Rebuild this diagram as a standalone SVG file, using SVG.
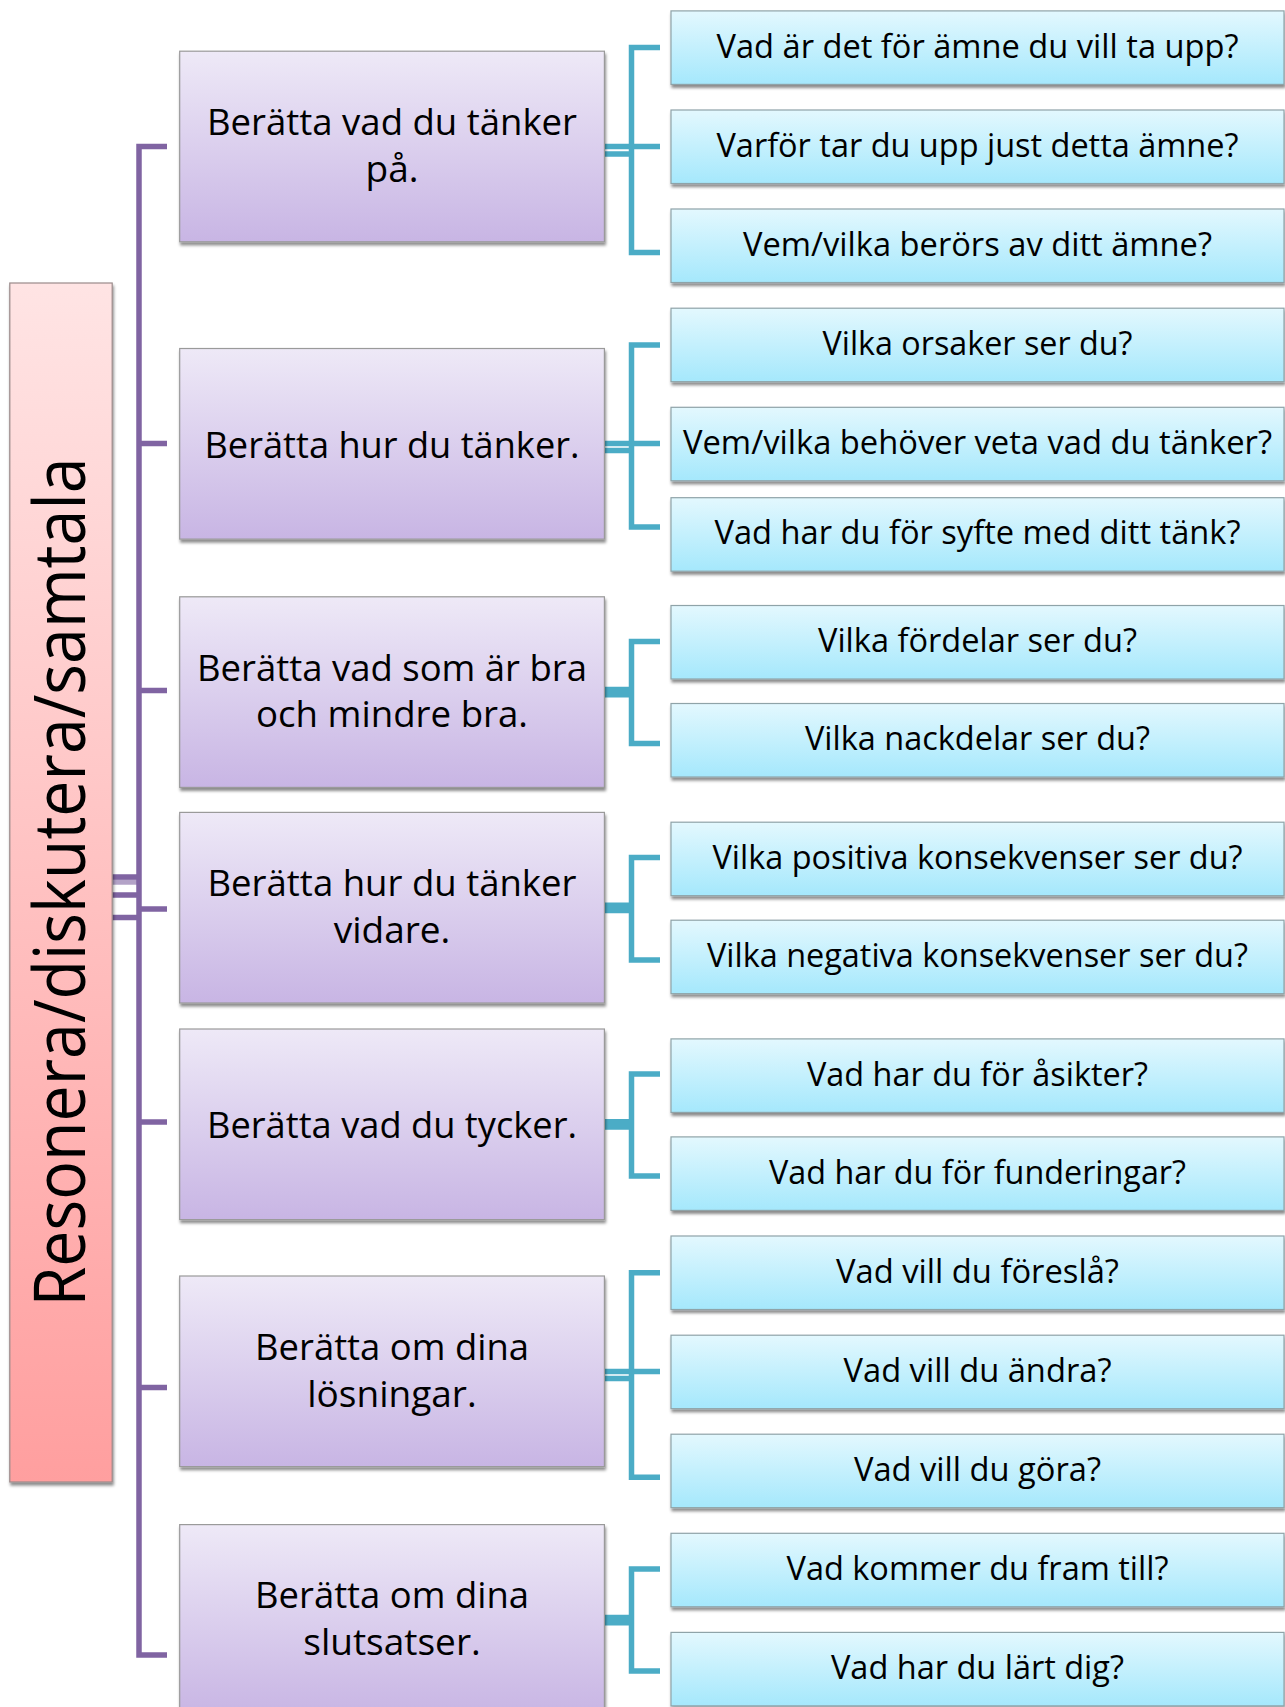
<svg xmlns="http://www.w3.org/2000/svg" width="1285" height="1707" viewBox="0 0 1285 1707">
<defs>
<linearGradient id="gp" x1="0" y1="0" x2="0" y2="1"><stop offset="0" stop-color="#EEE9F7"/><stop offset="1" stop-color="#C8B5E4"/></linearGradient>
<linearGradient id="gb" x1="0" y1="0" x2="0" y2="1"><stop offset="0" stop-color="#E3F8FE"/><stop offset="1" stop-color="#A5E8FC"/></linearGradient>
<linearGradient id="gr" x1="0" y1="0" x2="0" y2="1"><stop offset="0" stop-color="#FFE4E4"/><stop offset="1" stop-color="#FF9F9F"/></linearGradient>
<filter id="sh" x="-5%" y="-5%" width="110%" height="115%"><feDropShadow dx="1" dy="3" stdDeviation="1.5" flood-color="#000" flood-opacity="0.45"/></filter>
</defs>
<style>
.pb{fill:url(#gp);stroke:#9A9A9A;stroke-width:1.2;filter:url(#sh)}
.bb{fill:url(#gb);stroke:#8FA3A8;stroke-width:1.2;filter:url(#sh)}
.rb{fill:url(#gr);stroke:#9A8A8A;stroke-width:1.2;filter:url(#sh)}
text{font-family:"Open Sans","Noto Sans","DejaVu Sans",sans-serif;fill:#000;text-anchor:middle}
.bt{font-size:33px}
.pt{font-size:37px}
.rt{font-size:72px}
.cp{fill:none;stroke:#8064A2;stroke-width:5.5}
.cb{fill:none;stroke:#4BACC6;stroke-width:5.5}
</style>
<rect width="1285" height="1707" fill="#FFFFFF"/>
<g id="connectors">
<path class="cp" d="M112,877 H139 M112,895 H139 M112,917.5 H139"/>
<path class="cp" d="M112,882 H139" stroke-opacity="0.6"/>
<path class="cp" d="M167,146.5 H139 V1655 H167 M139,443.5 H167 M139,690.5 H167 M139,909 H167 M139,1122 H167 M139,1387.5 H167"/>
<path class="cb" d="M604,146.5 H660 M604,154 H631.5 M660,47.6 H631.5 V252.5 H660"/>
<path class="cb" d="M604,443.5 H660 M604,450.5 H631.5 M660,345 H631.5 V527 H660"/>
<path class="cb" d="M604,689.5 H631.5 M604,694.7 H631.5 M660,641.5 H631.5 V743.5 H660"/>
<path class="cb" d="M604,905.2 H631.5 M604,910.4 H631.5 M660,857.5 H631.5 V960 H660"/>
<path class="cb" d="M604,1121.8 H631.5 M604,1127 H631.5 M660,1074 H631.5 V1176 H660"/>
<path class="cb" d="M604,1371.5 H660 M604,1378.5 H631.5 M660,1272.7 H631.5 V1477.3 H660"/>
<path class="cb" d="M604,1617.5 H631.5 M604,1622.7 H631.5 M660,1569 H631.5 V1671 H660"/>
</g>
<g id="root"><rect class="rb" x="9.8" y="283" width="102.4" height="1199"/><text class="rt" transform="translate(85,882) rotate(-90)" textLength="849" lengthAdjust="spacingAndGlyphs">Resonera/diskutera/samtala</text></g>
<g id="p1"><rect class="pb" x="179.7" y="51.2" width="424.7" height="190.6"/><text class="pt" x="392" y="135" textLength="370" lengthAdjust="spacingAndGlyphs">Berätta vad du tänker</text><text class="pt" x="392" y="181.7">på.</text></g>
<g id="p2"><rect class="pb" x="179.7" y="348.5" width="424.7" height="190.6"/><text class="pt" x="392" y="457.5" textLength="375" lengthAdjust="spacingAndGlyphs">Berätta hur du tänker.</text></g>
<g id="p3"><rect class="pb" x="179.7" y="596.8" width="424.7" height="190.6"/><text class="pt" x="392" y="680.6" textLength="390" lengthAdjust="spacingAndGlyphs">Berätta vad som är bra</text><text class="pt" x="392" y="727.3" textLength="272" lengthAdjust="spacingAndGlyphs">och mindre bra.</text></g>
<g id="p4"><rect class="pb" x="179.7" y="812.4" width="424.7" height="190.6"/><text class="pt" x="392" y="896.2" textLength="369" lengthAdjust="spacingAndGlyphs">Berätta hur du tänker</text><text class="pt" x="392" y="942.9">vidare.</text></g>
<g id="p5"><rect class="pb" x="179.7" y="1029" width="424.7" height="190.6"/><text class="pt" x="392" y="1138" textLength="370" lengthAdjust="spacingAndGlyphs">Berätta vad du tycker.</text></g>
<g id="p6"><rect class="pb" x="179.7" y="1276" width="424.7" height="190.6"/><text class="pt" x="392" y="1359.8" textLength="274" lengthAdjust="spacingAndGlyphs">Berätta om dina</text><text class="pt" x="392" y="1406.5">lösningar.</text></g>
<g id="p7"><rect class="pb" x="179.7" y="1524.6" width="424.7" height="190.6"/><text class="pt" x="392" y="1608.4" textLength="274" lengthAdjust="spacingAndGlyphs">Berätta om dina</text><text class="pt" x="392" y="1655.1">slutsatser.</text></g>
<g id="b1"><rect class="bb" x="671" y="10.9" width="613" height="73.5"/><text class="bt" x="977.5" y="57.5" textLength="522" lengthAdjust="spacingAndGlyphs">Vad är det för ämne du vill ta upp?</text></g>
<g id="b2"><rect class="bb" x="671" y="110" width="613" height="73.5"/><text class="bt" x="977.5" y="156.6" textLength="522" lengthAdjust="spacingAndGlyphs">Varför tar du upp just detta ämne?</text></g>
<g id="b3"><rect class="bb" x="671" y="209" width="613" height="73.5"/><text class="bt" x="977.5" y="255.6" textLength="469" lengthAdjust="spacingAndGlyphs">Vem/vilka berörs av ditt ämne?</text></g>
<g id="b4"><rect class="bb" x="671" y="308.2" width="613" height="73.5"/><text class="bt" x="977.5" y="354.8" textLength="310" lengthAdjust="spacingAndGlyphs">Vilka orsaker ser du?</text></g>
<g id="b5"><rect class="bb" x="671" y="407.3" width="613" height="73.5"/><text class="bt" x="977.5" y="453.9" textLength="589" lengthAdjust="spacingAndGlyphs">Vem/vilka behöver veta vad du tänker?</text></g>
<g id="b6"><rect class="bb" x="671" y="497.7" width="613" height="73.5"/><text class="bt" x="977.5" y="544.3" textLength="526" lengthAdjust="spacingAndGlyphs">Vad har du för syfte med ditt tänk?</text></g>
<g id="b7"><rect class="bb" x="671" y="605.5" width="613" height="73.5"/><text class="bt" x="977.5" y="652.1" textLength="319" lengthAdjust="spacingAndGlyphs">Vilka fördelar ser du?</text></g>
<g id="b8"><rect class="bb" x="671" y="703.5" width="613" height="73.5"/><text class="bt" x="977.5" y="750.1" textLength="345" lengthAdjust="spacingAndGlyphs">Vilka nackdelar ser du?</text></g>
<g id="b9"><rect class="bb" x="671" y="822.2" width="613" height="73.5"/><text class="bt" x="977.5" y="868.8" textLength="530" lengthAdjust="spacingAndGlyphs">Vilka positiva konsekvenser ser du?</text></g>
<g id="b10"><rect class="bb" x="671" y="920.2" width="613" height="73.5"/><text class="bt" x="977.5" y="966.8" textLength="541" lengthAdjust="spacingAndGlyphs">Vilka negativa konsekvenser ser du?</text></g>
<g id="b11"><rect class="bb" x="671" y="1038.9" width="613" height="73.5"/><text class="bt" x="977.5" y="1085.5" textLength="341" lengthAdjust="spacingAndGlyphs">Vad har du för åsikter?</text></g>
<g id="b12"><rect class="bb" x="671" y="1136.9" width="613" height="73.5"/><text class="bt" x="977.5" y="1183.5" textLength="417" lengthAdjust="spacingAndGlyphs">Vad har du för funderingar?</text></g>
<g id="b13"><rect class="bb" x="671" y="1236" width="613" height="73.5"/><text class="bt" x="977.5" y="1282.6" textLength="283" lengthAdjust="spacingAndGlyphs">Vad vill du föreslå?</text></g>
<g id="b14"><rect class="bb" x="671" y="1335.2" width="613" height="73.5"/><text class="bt" x="977.5" y="1381.8" textLength="268" lengthAdjust="spacingAndGlyphs">Vad vill du ändra?</text></g>
<g id="b15"><rect class="bb" x="671" y="1434.2" width="613" height="73.5"/><text class="bt" x="977.5" y="1480.8" textLength="247" lengthAdjust="spacingAndGlyphs">Vad vill du göra?</text></g>
<g id="b16"><rect class="bb" x="671" y="1533.3" width="613" height="73.5"/><text class="bt" x="977.5" y="1579.9" textLength="382" lengthAdjust="spacingAndGlyphs">Vad kommer du fram till?</text></g>
<g id="b17"><rect class="bb" x="671" y="1632.4" width="613" height="73.5"/><text class="bt" x="977.5" y="1679" textLength="293" lengthAdjust="spacingAndGlyphs">Vad har du lärt dig?</text></g>
</svg>
